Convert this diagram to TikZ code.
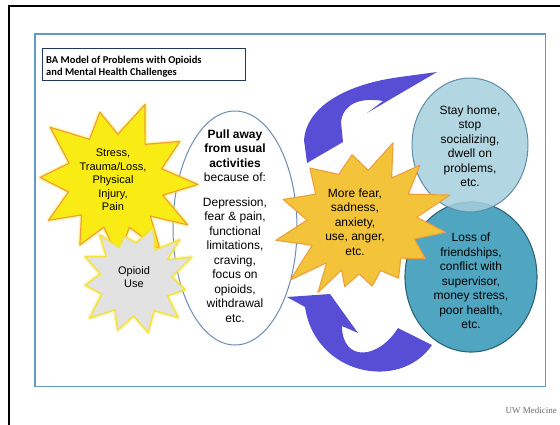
\documentclass[tikz,border=0pt]{standalone}
\usepackage{fontspec}
\setmainfont{Liberation Sans}
\newfontfamily\titlefont{Carlito}
\newfontfamily\logofont{Liberation Serif}
\usetikzlibrary{shapes.geometric}

\definecolor{framebl}{RGB}{98,152,200}
\definecolor{titlerim}{RGB}{35,55,90}
\definecolor{arrowbl}{RGB}{88,78,214}
\definecolor{burstyel}{RGB}{248,236,20}
\definecolor{burstorg}{RGB}{240,158,60}
\definecolor{burstgold}{RGB}{243,196,58}
\definecolor{burstgray}{RGB}{226,226,226}
\definecolor{burstrim}{RGB}{246,226,60}
\definecolor{lightteal}{RGB}{166,208,222}
\definecolor{lighttealrim}{RGB}{95,140,168}
\definecolor{darkteal}{RGB}{80,166,192}
\definecolor{darktealrim}{RGB}{45,100,122}
\definecolor{ovalrim}{RGB}{110,140,178}
\definecolor{logogray}{RGB}{110,110,110}

\tikzset{
  label12/.style={align=center, font=\fontsize{12}{14.5}\selectfont, inner sep=0pt},
  label11/.style={align=center, font=\fontsize{11}{13.5}\selectfont, inner sep=0pt},
  curvearrow/.style={fill=arrowbl},
  glow/.style={draw=#1, line width=4pt, opacity=0.35, line join=round},
  burstA/.style={fill=burstyel, draw=burstorg, line width=1.2pt, line join=round},
  burstB/.style={fill=burstgray, draw=burstrim, line width=1.4pt, line join=round},
  burstC/.style={fill=burstgold, draw=burstorg, line width=1.1pt, line join=round},
}

\begin{document}
\begin{tikzpicture}[x=1pt, y=-1pt]
\useasboundingbox (0,0) rectangle (560,424);
\fill[white] (0,0) rectangle (560,424);

% slide frame
\draw[line width=2.2pt, black] (9,440) -- (9,6) -- (575,6);
\draw[framebl, line width=1.2pt] (35,34) rectangle (545.5,386.5);

% heading box
\node[draw=titlerim, line width=1.1pt, fill=white, minimum width=203, minimum height=32,
      anchor=north west, inner sep=0pt] (titlebox) at (42,48) {};
\node[anchor=west, align=left, inner sep=0pt,
      font=\titlefont\bfseries\fontsize{10.5}{12}\selectfont] (title) at (46,67)
  {BA Model of Problems with Opioids\\and Mental Health Challenges};

% curved arrows of the cycle
\fill[curvearrow] (307,163) -- (304,140) .. controls (306,110) and (340,85) .. (400,77)
  -- (437,72) -- (367,113) -- (383,101) .. controls (360,97) and (343,104) .. (341,122)
  -- (343,142) -- cycle;
\fill[curvearrow] (287,297) -- (330,294) -- (358,333) -- (342,326)
  .. controls (342,362) and (378,360) .. (398,328) -- (432,345)
  .. controls (400,392) and (315,375) .. (305,307) -- cycle;

% consequence circles
\draw[fill=darkteal, draw=darktealrim, line width=1.1pt] (471,277) ellipse [x radius=66, y radius=75];
\draw[fill=lightteal, fill opacity=0.85, draw=lighttealrim, line width=1pt] (470,145) ellipse [x radius=58, y radius=67];

% central oval
\draw[fill=white, draw=ovalrim, line width=1pt] (235,228) ellipse [x radius=62, y radius=117];

% emotion burst
\begin{scope}[shift={(362,222)}, y={(0pt,1pt)}]
\draw[burstC] (68.6:85) -- (56:53) -- (44.5:81) -- (31:54) -- (17:92) -- (5:55) -- (-7:84)
  -- (-18:55) -- (-30:73) -- (-43:53) -- (-57:67) -- (-69:52) -- (-81:65) -- (-93:52)
  -- (-105:67) -- (-113:52) -- (-122:83) -- (-131:54) -- (-141:92) -- (-155:55)
  -- (-168:88) -- (178:55) -- (164:82) -- (149:54) -- (134:75) -- (116:53) -- (98.5:68)
  -- (83:52) -- cycle;
\end{scope}

% stress burst
\begin{scope}[shift={(113,180)}, y={(0pt,1pt)}]
\path[glow=burstyel] (67:82) -- (48:48) -- (30:77) -- (13:50) -- (-3:85) -- (-17:52) -- (-31:87)
  -- (-44:52) -- (-56:84) -- (-71:50) -- (-86:78) -- (-101:48) -- (-117:73) -- (-132:47)
  -- (-148:76) -- (-165:46) -- (178:73) -- (159:47) -- (140:82) -- (120:47) -- (101:69)
  -- (84:46) -- cycle;
\draw[burstA] (67:82) -- (48:48) -- (30:77) -- (13:50) -- (-3:85) -- (-17:52) -- (-31:87)
  -- (-44:52) -- (-56:84) -- (-71:50) -- (-86:78) -- (-101:48) -- (-117:73) -- (-132:47)
  -- (-148:76) -- (-165:46) -- (178:73) -- (159:47) -- (140:82) -- (120:47) -- (101:69)
  -- (84:46) -- cycle;
\end{scope}

% opioid burst
\begin{scope}[shift={(135,280)}, y={(0pt,1pt)}]
\path[glow=burstrim] (71:55) -- (56:36) -- (42:60) -- (32:38) -- (22:61) -- (5:37) -- (-11:51)
  -- (-26:36) -- (-41:57) -- (-58:36) -- (-76:54) -- (-92:36) -- (-109:53) -- (-124:36)
  -- (-140:59) -- (-157:36) -- (-174:50) -- (170:35) -- (155:55) -- (141:37) -- (128:57)
  -- (116:36) -- (104:45) -- (88:37) -- cycle;
\draw[burstB] (71:55) -- (56:36) -- (42:60) -- (32:38) -- (22:61) -- (5:37) -- (-11:51)
  -- (-26:36) -- (-41:57) -- (-58:36) -- (-76:54) -- (-92:36) -- (-109:53) -- (-124:36)
  -- (-140:59) -- (-157:36) -- (-174:50) -- (170:35) -- (155:55) -- (141:37) -- (128:57)
  -- (116:36) -- (104:45) -- (88:37) -- cycle;
\end{scope}

% labels
\node[label11] (stress) at (113,180) {Stress,\\Trauma/Loss,\\Physical\\Injury,\\Pain};
\node[label11] (opioid) at (134,277) {Opioid\\Use};
\node[label12] (pull) at (235,226) {\textbf{Pull away}\\\textbf{from usual}\\\textbf{activities}\\because of:\\[10pt]
  Depression,\\fear \& pain,\\functional\\limitations,\\craving,\\focus on\\opioids,\\withdrawal\\etc.};
\node[label12] (emotion) at (355,222) {More fear,\\sadness,\\anxiety,\\use, anger,\\etc.};
\node[label12] (stay) at (470,146) {Stay home,\\stop\\socializing,\\dwell on\\problems,\\etc.};
\node[label12] (loss) at (471,281) {Loss of\\friendships,\\conflict with\\supervisor,\\money stress,\\poor health,\\etc.};

% footer logo text
\node[anchor=east, inner sep=0pt, text=logogray, font=\logofont\fontsize{9}{10}\selectfont] (logo) at (557,410) {UW Medicine};
\end{tikzpicture}
\end{document}
